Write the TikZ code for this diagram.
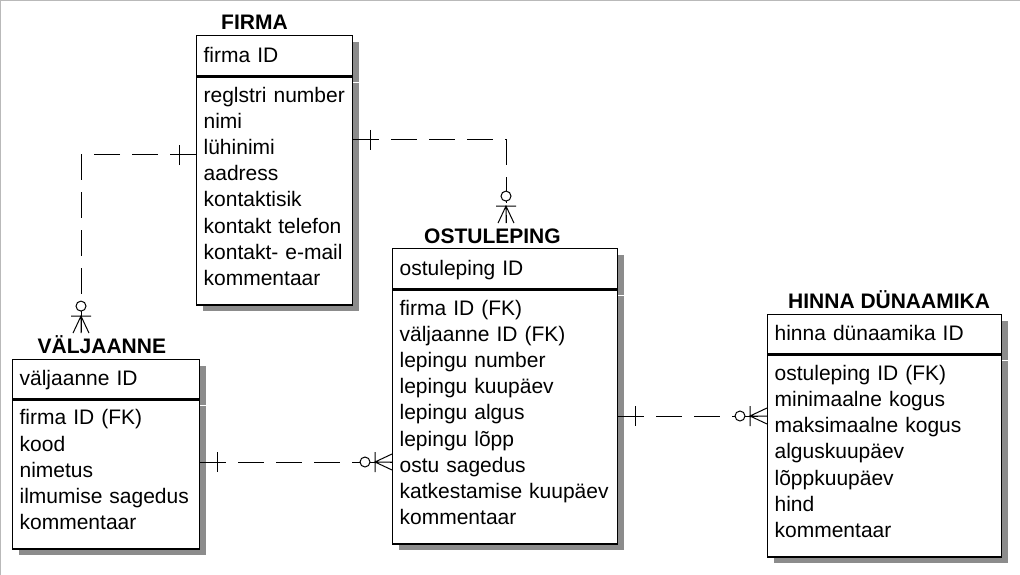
\documentclass[tikz,border=0pt]{standalone}
\usepackage{fontspec}
\setmainfont{Liberation Sans}
\usetikzlibrary{shadows}

\begin{document}
\begin{tikzpicture}[x=1pt, y=-1pt,
		entity/.style={
			draw,
			line width=1.3pt,
			fill=white,
			anchor=north west,
			align=left,
			inner xsep=7pt,
			font=\fontsize{21}{26.2}\selectfont,
			drop shadow={shadow xshift=6pt, shadow yshift=-6pt, fill=black!45, opacity=1}},
		keybox/.style={
			entity,
			minimum height=40pt,
			text height=14pt,
			text depth=1pt},
		attrbox/.style={
			entity,
			inner ysep=0pt,
			text height=6pt},
		title/.style={
			anchor=base west,
			inner xsep=0pt,
			inner ysep=5pt,
			text height=15pt,
			text depth=0pt,
			font=\bfseries\fontsize{21}{24}\selectfont},
		rel/.style={
			line width=1pt,
			dash pattern=on 26pt off 12pt},
		one/.pic={
			\draw[solid, line width=1pt] (17,-10) -- (17,10);},
		many/.pic={
			\draw[solid, line width=1pt] (0,-8) -- (17,0) -- (0,8) (0,0) -- (17,0) (17,-10) -- (17,10);
			\draw[solid, line width=1pt, fill=white] (27,0) circle (5pt);}]

		\fill[white] (0,0) rectangle (1020,575);
		\useasboundingbox (0,0) rectangle (1020,575);
		\draw[gray!55, line width=1.5pt] (0,575) -- (0,0) -- (1020,0);

		% FIRMA
		\node (firma) [keybox, text width=142pt] at (196,35) {firma ID};
		\node (firmaAttr) [attrbox, text width=142pt, minimum height=228pt] at (firma.south west) {reglstri number\\nimi\\lühinimi\\aadress\\kontaktisik\\kontakt telefon\\kontakt- e-mail\\kommentaar};
		\node (firmaT) [title] at (221,29.5) {FIRMA};

		% VÄLJAANNE
		\node (valj) [keybox, text width=173pt, minimum height=39pt] at (12,359) {väljaanne ID};
		\node (valjAttr) [attrbox, text width=173pt, minimum height=149pt] at (valj.south west) {firma ID (FK)\\kood\\nimetus\\ilmumise sagedus\\kommentaar};
		\node (valjT) [title] at (37.5,353.3) {VÄLJAANNE};

		% OSTULEPING
		\node (ost) [keybox, text width=211pt] at (392,248) {ostuleping ID};
		\node (ostAttr) [attrbox, text width=211pt, minimum height=254pt] at (ost.south west) {firma ID (FK)\\väljaanne ID (FK)\\lepingu number\\lepingu kuupäev\\lepingu algus\\lepingu lõpp\\ostu sagedus\\katkestamise kuupäev\\kommentaar};
		\node (ostT) [title] at (424,243.3) {OSTULEPING};

		% HINNA DÜNAAMIKA
		\node (hinna) [keybox, text width=220pt, minimum height=39pt] at (767,314) {hinna dünaamika ID};
		\node (hinnaAttr) [attrbox, text width=220pt, minimum height=202pt] at (hinna.south west) {ostuleping ID (FK)\\minimaalne kogus\\maksimaalne kogus\\alguskuupäev\\lõppkuupäev\\hind\\kommentaar};
		\node (hinnaT) [title] at (788,308.3) {HINNA DÜNAAMIKA};

		\draw [rel] (firmaAttr.west |- 0,155) -| (valjT.north -| 81,0);
		\draw [rel] (firmaAttr.east |- 0,140) -| (ostT.north -| 506,0);
		\draw [rel] (valjAttr.east |- 0,462) -- (ostAttr.west |- 0,462);
		\draw [rel] (ostAttr.east |- 0,416) -- (hinnaAttr.west |- 0,416);

		\pic [rotate=180] at (firmaAttr.west |- 0,155) {one};
		\pic at (firmaAttr.east |- 0,140) {one};
		\pic at (valjAttr.east |- 0,462) {one};
		\pic at (ostAttr.east |- 0,416) {one};
		\pic [rotate=90] at (valjT.north -| 81,0) {many};
		\pic [rotate=90] at (ostT.north -| 506,0) {many};
		\pic [rotate=180] at (ostAttr.west |- 0,462) {many};
		\pic [rotate=180] at (hinnaAttr.west |- 0,416) {many};
	\end{tikzpicture}
\end{document}
